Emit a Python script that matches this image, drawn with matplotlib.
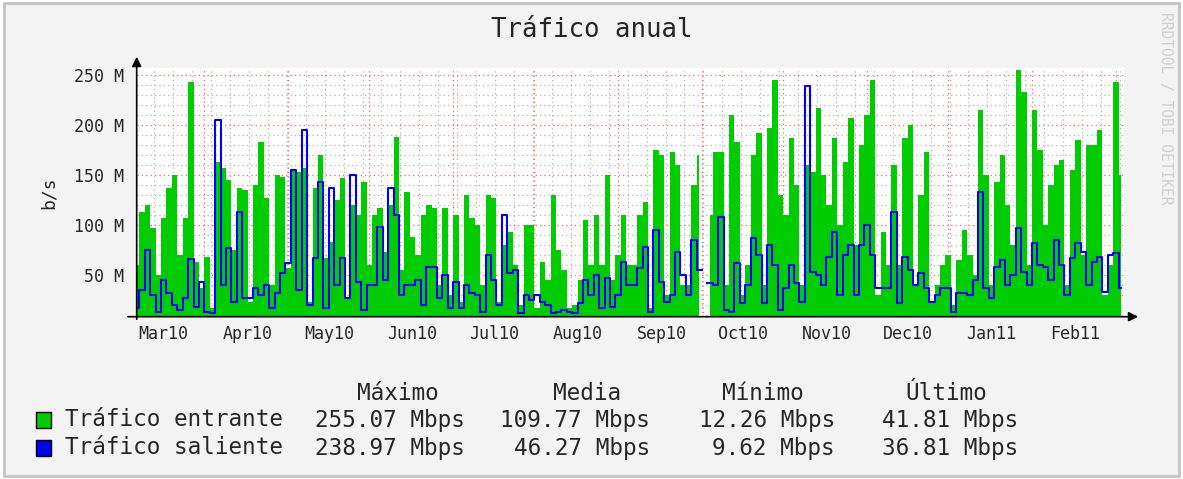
import numpy as np
import pandas as pd
import matplotlib
matplotlib.use("Agg")
import matplotlib.pyplot as plt
from matplotlib.patches import Rectangle

# daily series sampled every 2 days, in Mbit/s, starting 2010-02-19
start = "2010-02-19"
step_days = 2

entrante = [
    60, 113, 120, 97, 50, 107, 137, 150, 70, 107, 243, 63, 37, 68, 17, 163, 157, 145, 75, 137,
    135, 23, 140, 183, 127, 40, 150, 148, 57, 155, 153, 157, 23, 137, 170, 67, 83, 125, 147, 27,
    120, 110, 143, 60, 110, 117, 73, 120, 188, 55, 133, 88, 70, 110, 120, 117, 40, 117, 30, 110,
    23, 130, 107, 100, 40, 130, 127, 23, 80, 93, 60, 20, 100, 100, 17, 63, 45, 130, 75, 55,
    17, 20, 45, 105, 60, 110, 60, 150, 45, 70, 110, 60, 60, 110, 123, 17, 175, 170, 30, 173,
    160, 40, 40, 140, 170, np.nan, 110, 173, 173, 40, 210, 183, 30, 60, 170, 192, 40, 197, 245, 130,
    110, 187, 140, 40, 160, 153, 217, 150, 120, 187, 100, 163, 207, 80, 180, 210, 245, 30, 93, 60,
    160, 60, 187, 200, 40, 130, 173, 22, 40, 60, 70, 20, 65, 95, 70, 50, 215, 150, 40, 143,
    170, 120, 80, 255, 233, 60, 215, 175, 100, 140, 160, 165, 40, 155, 185, 70, 180, 180, 195, 30,
    60, 243, 150,
]

saliente = [
    17, 35, 75, 30, 13, 45, 32, 20, 15, 27, 66, 18, 43, 13, 12, 205, 40, 77, 23, 113,
    27, 27, 37, 30, 40, 17, 32, 52, 62, 155, 35, 195, 20, 67, 143, 17, 137, 40, 67, 27,
    150, 43, 15, 40, 40, 98, 45, 137, 110, 30, 40, 40, 45, 20, 58, 58, 27, 50, 17, 43,
    17, 40, 32, 30, 13, 70, 45, 20, 110, 52, 55, 12, 30, 25, 30, 23, 20, 12, 13, 15,
    13, 12, 22, 45, 30, 50, 17, 47, 18, 30, 63, 40, 40, 57, 78, 13, 95, 43, 23, 30,
    73, 50, 30, 85, 55, np.nan, 42, 40, 108, 15, 13, 62, 22, 40, 87, 70, 22, 80, 60, 15,
    37, 60, 42, 23, 239, 53, 50, 40, 68, 93, 30, 70, 80, 30, 80, 100, 70, 37, 37, 37,
    113, 22, 68, 55, 40, 52, 37, 23, 30, 37, 37, 13, 32, 32, 30, 45, 133, 37, 27, 58,
    65, 40, 50, 97, 53, 40, 82, 60, 58, 45, 85, 60, 30, 67, 82, 73, 40, 63, 68, 33,
    70, 72, 37,
]

series_names = ["Tráfico entrante", "Tráfico saliente"]
stat_headers = ["Máximo", "Media", "Mínimo", "Último"]
stats_entrante = ["255.07 Mbps", "109.77 Mbps", "12.26 Mbps", "41.81 Mbps"]
stats_saliente = ["238.97 Mbps", "46.27 Mbps", "9.62 Mbps", "36.81 Mbps"]
month_labels = ["Mar10", "Apr10", "May10", "Jun10", "Jul10", "Aug10",
                "Sep10", "Oct10", "Nov10", "Dec10", "Jan11", "Feb11"]

W, H = 1183, 479
bg = "#f3f3f3"
green = "#00cc00"
blue = "#0000ff"
mono = "DejaVu Sans Mono"
txt = "#262626"

t0 = pd.Timestamp(start)
days = np.arange(len(entrante)) * step_days
e = np.array(entrante, dtype=float)
s = np.array(saliente, dtype=float)

fig = plt.figure(figsize=(W / 100, H / 100), dpi=100)
fig.patch.set_facecolor("white")
frame = Rectangle((4 / W, 3 / H), (W - 8) / W, (H - 6) / H, transform=fig.transFigure,
                  facecolor=bg, edgecolor="#c4c4c4", lw=2, zorder=-10)
fig.add_artist(frame)

x0, x1 = 136.7, 1124
ytop, ybot = 67.7, 316.7
ax = fig.add_axes([x0 / W, 1 - ybot / H, (x1 - x0) / W, (ybot - ytop) / H])
ax.set_facecolor("white")
xmax = 365
ax.set_xlim(0, xmax)
ax.set_ylim(8.3, 257.3)
for sp in ax.spines.values():
    sp.set_visible(False)

# grid
minor_c = "#b4b4b4"
major_c = "#f26a6a"
for v in range(10, 260, 10):
    if v % 50:
        ax.axhline(v, color=minor_c, lw=0.9, ls=(0, (1, 2.5)), zorder=0)
for v in np.arange(6.5, xmax, 7):
    ax.axvline(v, color=minor_c, lw=0.9, ls=(0, (1, 2.5)), zorder=0)
for v in range(50, 260, 50):
    ax.axhline(v, color=major_c, lw=0.9, ls=(0, (1, 2.5)), zorder=0)
months = pd.date_range("2010-03-01", periods=12, freq="MS")
mid = [(m + pd.Timedelta(days=15) - t0).days for m in months]
for v in mid:
    ax.axvline(v, color=major_c, lw=0.9, ls=(0, (1, 2.5)), zorder=0)

ax.fill_between(days, 0, e, step="mid", color=green, lw=0, zorder=2)
ax.plot(days, s, drawstyle="steps-mid", color=blue, lw=1.5, zorder=3)

ax.set_yticks(range(50, 260, 50))
ax.set_yticklabels([f"{v} M" for v in range(50, 260, 50)], family=mono, fontsize=12)
ax.set_xticks([(m - t0).days for m in months])
ax.set_xticklabels(month_labels, family=mono, fontsize=12)
ax.tick_params(length=0, pad=9, colors=txt)
ax.tick_params(axis="x", pad=6)
ax.set_ylabel("b/s", family=mono, fontsize=13, color=txt, labelpad=12)

# axes with arrows
ax.annotate("", xy=(1141, H - ybot), xytext=(125, H - ybot), xycoords="figure pixels",
            arrowprops=dict(arrowstyle="-|>", color="black", lw=1.2, mutation_scale=14))
ax.annotate("", xy=(x0, H - 54), xytext=(x0, H - 322), xycoords="figure pixels",
            arrowprops=dict(arrowstyle="-|>", color="black", lw=1.2, mutation_scale=14))

fig.text(592 / W, 1 - 30 / H, "Tráfico anual", family=mono, fontsize=18.5,
         ha="center", va="center", color=txt)
fig.text(1166 / W, 1 - 12 / H, "RRDTOOL / TOBI OETIKER", family=mono, fontsize=10.5,
         rotation=-90, ha="center", va="top", color="#d0d0d0")

# legend
fs = 16.3
for hx, h in zip([398, 587, 763, 946], stat_headers):
    fig.text(hx / W, 1 - 393 / H, h, family=mono, fontsize=fs, ha="center", va="center",
             color=txt)
rows = [(420, green, series_names[0], stats_entrante),
        (448, blue, series_names[1], stats_saliente)]
for ry, col, name, vals in rows:
    fig.add_artist(Rectangle((36 / W, 1 - (ry + 8) / H), 15 / W, 16 / H,
                             transform=fig.transFigure, facecolor=col,
                             edgecolor="black", lw=1))
    fig.text(65 / W, 1 - ry / H, name, family=mono, fontsize=fs, ha="left", va="center",
             color=txt)
    for rx, v in zip([465, 650, 835, 1018], vals):
        fig.text(rx / W, 1 - ry / H, v, family=mono, fontsize=fs, ha="right", va="center",
                 color=txt)

fig.savefig("out.png", dpi=100, facecolor=fig.get_facecolor())
